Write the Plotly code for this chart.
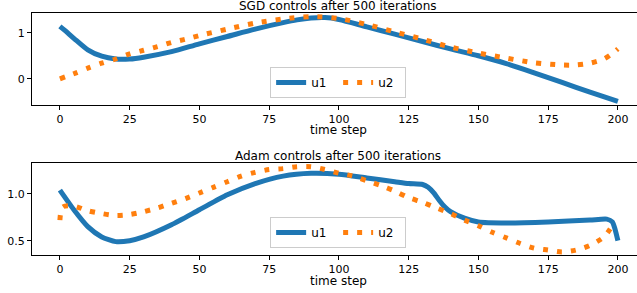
import plotly.graph_objects as go

# ---- data ----
sgd_t_u1 = [0, 2, 5, 10, 15, 20, 25, 30, 40, 50, 60, 70, 80, 85, 90, 95, 100, 110, 120, 130, 140, 150, 160, 170, 180, 190, 200]
sgd_u1 = [1.14, 1.04, 0.88, 0.63, 0.49, 0.43, 0.43, 0.47, 0.59, 0.76, 0.92, 1.08, 1.22, 1.28, 1.32, 1.33, 1.29, 1.13, 0.97, 0.81, 0.65, 0.50, 0.33, 0.13, -0.08, -0.29, -0.49]
sgd_t_u2 = [0, 5, 10, 15, 20, 25, 30, 35, 40, 45, 50, 60, 70, 80, 90, 100, 110, 120, 130, 140, 150, 160, 170, 180, 185, 190, 195, 198, 200]
sgd_u2 = [0.00, 0.11, 0.23, 0.34, 0.43, 0.54, 0.62, 0.70, 0.79, 0.86, 0.94, 1.08, 1.21, 1.30, 1.35, 1.31, 1.18, 1.02, 0.86, 0.69, 0.56, 0.45, 0.35, 0.30, 0.30, 0.34, 0.43, 0.55, 0.65]

adam_t_u1 = [0, 5, 10, 15, 20, 25, 30, 40, 50, 60, 70, 80, 90, 100, 110, 120, 125, 130, 132, 134, 136, 138, 140, 145, 150, 160, 175, 190, 196, 198, 199, 200]
adam_u1 = [1.04, 0.83, 0.65, 0.54, 0.49, 0.50, 0.54, 0.67, 0.83, 0.99, 1.11, 1.19, 1.22, 1.21, 1.17, 1.13, 1.11, 1.10, 1.07, 1.01, 0.93, 0.86, 0.81, 0.74, 0.70, 0.69, 0.70, 0.72, 0.73, 0.70, 0.62, 0.50]
adam_t_u2 = [0, 1, 5, 10, 15, 20, 25, 30, 35, 40, 45, 50, 55, 60, 65, 70, 75, 80, 85, 90, 95, 100, 105, 110, 115, 120, 125, 130, 135, 140, 145, 150, 155, 160, 165, 170, 175, 180, 185, 190, 195, 198]
adam_u2 = [0.72, 0.86, 0.87, 0.82, 0.79, 0.77, 0.78, 0.81, 0.85, 0.90, 0.95, 1.01, 1.07, 1.13, 1.19, 1.23, 1.26, 1.27, 1.29, 1.29, 1.26, 1.22, 1.19, 1.14, 1.09, 1.03, 0.96, 0.91, 0.85, 0.79, 0.72, 0.66, 0.59, 0.53, 0.47, 0.42, 0.40, 0.38, 0.40, 0.45, 0.54, 0.66]

x_ticks = [0, 25, 50, 75, 100, 125, 150, 175, 200]
titles = ["SGD controls after 500 iterations", "Adam controls after 500 iterations"]
x_label = "time step"

BLUE = "#1f77b4"
ORANGE = "#ff7f0e"
FONT = "DejaVu Sans"

fig = go.Figure()
fig.add_trace(go.Scatter(x=sgd_t_u1, y=sgd_u1, mode="lines", name="u1",
                         line=dict(color=BLUE, width=5, shape="spline", smoothing=0.8), xaxis="x", yaxis="y", legend="legend"))
fig.add_trace(go.Scatter(x=sgd_t_u2, y=sgd_u2, mode="lines", name="u2",
                         line=dict(color=ORANGE, width=5, dash="5px,9px", shape="spline", smoothing=0.8), xaxis="x", yaxis="y", legend="legend"))
fig.add_trace(go.Scatter(x=adam_t_u1, y=adam_u1, mode="lines", name="u1",
                         line=dict(color=BLUE, width=5, shape="spline", smoothing=0.6), xaxis="x2", yaxis="y2", legend="legend2"))
fig.add_trace(go.Scatter(x=adam_t_u2, y=adam_u2, mode="lines", name="u2",
                         line=dict(color=ORANGE, width=5, dash="5px,9px", shape="spline", smoothing=0.8), xaxis="x2", yaxis="y2", legend="legend2"))

H_PLOT = 242.0
top_dom = [(255 - 105) / H_PLOT, 1.0]
bot_dom = [0.0, (255 - 163) / H_PLOT]
xrange_ = [-10, -10 + (637 - 32) / 2.79]

axis_common = dict(showline=True, linecolor="black", linewidth=1, ticks="outside",
                   ticklen=4, tickwidth=1, tickcolor="black", showgrid=False, zeroline=False,
                   automargin=False,
                   tickfont=dict(family=FONT, size=11, color="black"))

legend_common = dict(orientation="h", xanchor="center", yanchor="bottom", bgcolor="rgba(255,255,255,0.8)",
                     bordercolor="#cccccc", borderwidth=1, font=dict(family=FONT, size=12, color="black"),
                     itemwidth=30, tracegroupgap=0, entrywidth=22)

label_font = dict(family=FONT, size=12, color="black")

fig.update_layout(
    width=637, height=293,
    margin=dict(l=32, r=0, t=13, b=38, autoexpand=False),
    paper_bgcolor="white", plot_bgcolor="white",
    font=dict(family=FONT, color="black"),
    xaxis=dict(domain=[0, 1], range=xrange_, tickvals=x_ticks, mirror=True, anchor="y", **axis_common),
    yaxis=dict(domain=top_dom, range=[-0.57, 1.43], tickvals=[0, 1], anchor="x", **axis_common),
    xaxis2=dict(domain=[0, 1], range=xrange_, tickvals=x_ticks, mirror=True, anchor="y2", **axis_common),
    yaxis2=dict(domain=bot_dom, range=[0.347, 1.33], tickvals=[0.5, 1.0], tickformat=".1f", anchor="x2", **axis_common),
    legend=dict(x=0.506, y=(255 - 98) / H_PLOT, **legend_common),
    legend2=dict(x=0.506, y=(255 - 248) / H_PLOT, **legend_common),
    showlegend=True,
    annotations=[
        dict(text=titles[0], xref="paper", yref="paper", x=0.506, y=1.0, xanchor="center", yanchor="bottom",
             showarrow=False, font=label_font, yshift=-2),
        dict(text=titles[1], xref="paper", yref="paper", x=0.506, y=bot_dom[1], xanchor="center", yanchor="bottom",
             showarrow=False, font=label_font, yshift=-2),
        dict(text=x_label, xref="paper", yref="paper", x=0.506, y=(255 - 122) / H_PLOT, xanchor="center", yanchor="top",
             showarrow=False, font=label_font, borderpad=0),
        dict(text=x_label, xref="paper", yref="paper", x=0.506, y=(255 - 273) / H_PLOT, xanchor="center", yanchor="top",
             showarrow=False, font=label_font, borderpad=0),
    ],
)

fig.write_html("out.html", config={"displayModeBar": False},
               post_script="document.body.style.margin='0';document.body.style.padding='0';")
